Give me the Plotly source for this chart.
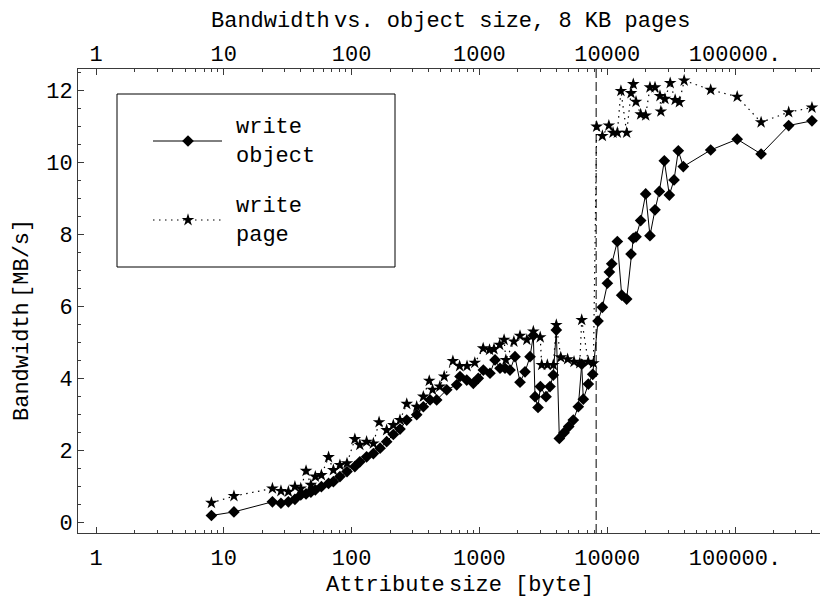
import plotly.graph_objects as go

# ---------------- data ----------------
obj_size = [8, 12, 24, 28, 32, 36, 40, 44, 48, 52, 58, 66, 72, 81, 92, 106, 116, 131, 148, 167,
            188, 212, 239, 270, 323, 364, 411, 463, 555, 664, 705, 796, 896, 980, 1073, 1210,
            1325, 1450, 1586, 1735, 1899, 2078, 2274, 2489, 2642, 2724, 2874, 3000, 3320, 3567,
            3786, 3997, 4220, 4592, 4997, 5429, 5940, 6316, 6501, 7115, 7700, 8472, 9160, 10030,
            10400, 10850, 12000, 12980, 14200, 15360, 16000, 16800, 18270, 20000, 21600, 23660,
            25580, 27980, 30620, 33340, 36000, 39400, 64500, 104000, 160000, 263000, 400000]
obj_bw = [0.20, 0.30, 0.58, 0.54, 0.58, 0.65, 0.77, 0.80, 0.85, 0.91, 1.00, 1.09, 1.14, 1.28, 1.42,
          1.56, 1.69, 1.83, 1.92, 2.07, 2.25, 2.45, 2.60, 2.85, 3.00, 3.22, 3.41, 3.41, 3.69, 3.83,
          4.06, 3.96, 3.87, 4.01, 4.24, 4.15, 4.52, 4.29, 4.29, 4.24, 4.61, 3.90, 4.19, 4.61, 5.20,
          3.50, 3.20, 3.78, 3.50, 3.78, 4.10, 5.35, 2.34, 2.50, 2.67, 2.85, 3.22, 4.40, 3.43, 3.85,
          4.12, 5.60, 5.98, 6.65, 6.96, 7.19, 7.81, 6.32, 6.21, 7.46, 7.90, 7.94, 8.39, 9.13, 7.97,
          8.69, 9.20, 10.05, 9.10, 9.52, 10.33, 9.89, 10.35, 10.65, 10.24, 11.03, 11.16]

page_size = [8, 12, 24, 28, 32, 36, 40, 44, 48, 52, 58, 66, 72, 81, 92, 106, 116, 131, 148, 164,
             188, 212, 239, 270, 323, 364, 405, 430, 490, 530, 620, 700, 800, 920, 1070, 1200,
             1300, 1440, 1560, 1610, 1860, 2078, 2350, 2642, 2990, 3073, 3400, 3786, 3997, 4330,
             4900, 5500, 6100, 6316, 7100, 7800, 8270, 9160, 10300, 11100, 12000, 12800, 14200,
             15360, 16000, 16800, 18270, 20000, 21600, 23660, 25870, 26300, 28300, 31100, 34000,
             36700, 40000, 64500, 104000, 160000, 263000, 400000]
page_bw = [0.55, 0.74, 0.95, 0.88, 0.86, 1.00, 0.95, 1.44, 1.05, 1.28, 1.32, 1.82, 1.46, 1.60, 1.65,
           2.32, 2.16, 2.25, 2.20, 2.79, 2.57, 2.71, 2.85, 3.30, 3.22, 3.50, 3.94, 3.69, 3.78, 4.06,
           4.49, 4.35, 4.35, 4.44, 4.84, 4.80, 4.82, 4.94, 5.08, 4.52, 5.03, 5.19, 5.08, 5.31, 5.15,
           4.38, 4.38, 4.38, 5.49, 4.59, 4.54, 4.47, 4.43, 5.63, 4.47, 4.43, 11.00, 10.74, 11.03,
           10.83, 10.83, 11.99, 10.83, 11.93, 12.18, 11.69, 11.34, 11.31, 12.09, 12.09, 11.85, 11.42,
           11.77, 12.21, 11.74, 11.68, 12.28, 12.02, 11.83, 11.12, 11.40, 11.53]

page_bytes = [8192]          # 8 KB page size (dashed marker)

x_ticks = [1, 10, 100, 1000, 10000, 100000]
x_tick_text = ["1", "10", "100", "1000", "10000", "100000."]
y_ticks = [0, 2, 4, 6, 8, 10, 12]
y_tick_text = ["0", "2", "4", "6", "8", "10", "12"]

GAP = "<span style='font-size:7px'> </span>"
title_text = "Bandwidth" + GAP + "vs. object size, 8 KB pages"
x_title = "Attribute" + GAP + "size [byte]"
y_title = "Bandwidth" + GAP + "[MB/s]"
legend_names = ["write<br>object", "write<br>page"]

# ---------------- layout geometry ----------------
W, H = 820, 598
PL, PR, PT, PB = 78, 820, 69, 533          # plot area in pixels
X_RANGE = [-0.141, 5.665]                  # log10 range
Y_RANGE = [-0.286, 12.60]
FONT = "Liberation Mono"
FS = 22
INK = "black"
FRAME = "#3a3a3a"
DIA = 9
STAR = 9.5

minor_x = [m * 10 ** k for k in range(0, 6) for m in range(2, 10) if m * 10 ** k < 4.6e5]

fig = go.Figure()

fig.add_trace(go.Scatter(
    x=obj_size, y=obj_bw, mode="lines+markers", name="write object",
    line=dict(color=INK, width=1),
    marker=dict(symbol="diamond", size=DIA, color=INK),
    showlegend=False))

fig.add_trace(go.Scatter(
    x=page_size, y=page_bw, mode="lines+markers", name="write page",
    line=dict(color=INK, width=1.2, dash="1.5px,4.5px"),
    marker=dict(symbol="star", size=STAR, color=INK),
    showlegend=False))

# dashed page-size marker, drawn on the top axis so that axis is rendered
fig.add_trace(go.Scatter(
    x=page_bytes * 2, y=Y_RANGE, xaxis="x2", yaxis="y", mode="lines",
    line=dict(color=INK, width=1, dash="9px,4px"), showlegend=False, hoverinfo="skip"))

# ---------------- hand-made legend on a pixel helper axis ----------------
fig.add_trace(go.Scatter(x=[153, 222], y=[141, 141], xaxis="x3", yaxis="y3", mode="lines",
                         line=dict(color=INK, width=1), showlegend=False, hoverinfo="skip"))
fig.add_trace(go.Scatter(x=[188], y=[141], xaxis="x3", yaxis="y3", mode="markers",
                         marker=dict(symbol="diamond", size=DIA, color=INK),
                         showlegend=False, hoverinfo="skip"))
fig.add_trace(go.Scatter(x=[153, 222], y=[220, 220], xaxis="x3", yaxis="y3", mode="lines",
                         line=dict(color=INK, width=1.2, dash="1.5px,4.5px"),
                         showlegend=False, hoverinfo="skip"))
fig.add_trace(go.Scatter(x=[188], y=[220], xaxis="x3", yaxis="y3", mode="markers",
                         marker=dict(symbol="star", size=STAR, color=INK),
                         showlegend=False, hoverinfo="skip"))

fig.add_shape(type="rect", xref="x3", yref="y3", x0=117, x1=395, y0=94, y1=267,
              line=dict(color=INK, width=1), fillcolor="rgba(0,0,0,0)")
fig.add_annotation(xref="x3", yref="y3", x=234, y=142, text=legend_names[0], showarrow=False,
                   xanchor="left", yanchor="middle", align="left",
                   font=dict(family=FONT, size=FS, color=INK))
fig.add_annotation(xref="x3", yref="y3", x=234, y=221, text=legend_names[1], showarrow=False,
                   xanchor="left", yanchor="middle", align="left",
                   font=dict(family=FONT, size=FS, color=INK))

# ---------------- titles ----------------
def px2paper_x(px):
    return (px - PL) / (PR - PL)

def px2paper_y(py):
    return (PB - py) / (PB - PT)

fig.add_annotation(xref="paper", yref="paper", x=px2paper_x(451), y=px2paper_y(21),
                   text=title_text, showarrow=False, xanchor="center", yanchor="middle",
                   font=dict(family=FONT, size=FS, color=INK))
fig.add_annotation(xref="paper", yref="paper", x=px2paper_x(460), y=px2paper_y(585),
                   text=x_title, showarrow=False, xanchor="center", yanchor="middle",
                   font=dict(family=FONT, size=FS, color=INK))
fig.add_annotation(xref="paper", yref="paper", x=px2paper_x(22), y=px2paper_y(320),
                   text=y_title, showarrow=False, xanchor="center", yanchor="middle",
                   textangle=-90, font=dict(family=FONT, size=FS, color=INK))

common_x = dict(type="log", range=X_RANGE, showgrid=False, zeroline=False,
                showline=True, linecolor=FRAME, linewidth=1,
                ticks="inside", ticklen=6, tickwidth=1, tickcolor=FRAME,
                tickmode="array", tickvals=x_ticks, ticktext=x_tick_text,
                tickfont=dict(family=FONT, size=FS, color=INK),
                minor=dict(tickmode="array", tickvals=minor_x, ticks="inside",
                           ticklen=3, tickwidth=1, tickcolor=FRAME, showgrid=False))

fig.update_layout(
    width=W, height=H,
    margin=dict(l=PL, r=W - PR, t=PT, b=H - PB, pad=0),
    paper_bgcolor="white", plot_bgcolor="white",
    showlegend=False,
    xaxis=dict(**common_x, side="bottom", anchor="y", ticklabelstandoff=5),
    xaxis2=dict(**common_x, side="top", overlaying="x", anchor="y", ticklabelstandoff=-2),
    yaxis=dict(range=Y_RANGE, showgrid=False, zeroline=False,
               showline=True, linecolor=FRAME, linewidth=1,
               ticks="inside", ticklen=6, tickwidth=1, tickcolor=FRAME,
               tickmode="array", tickvals=y_ticks, ticktext=y_tick_text,
               tickfont=dict(family=FONT, size=FS, color=INK),
               minor=dict(dtick=0.5, tick0=0, ticks="inside", ticklen=3, tickwidth=1,
                          tickcolor=FRAME, showgrid=False)),
    xaxis3=dict(range=[PL, PR], overlaying="x", visible=False, anchor="y3"),
    yaxis3=dict(range=[PB, PT], overlaying="y", visible=False, anchor="x3"),
)

fig.write_html("out.html")
